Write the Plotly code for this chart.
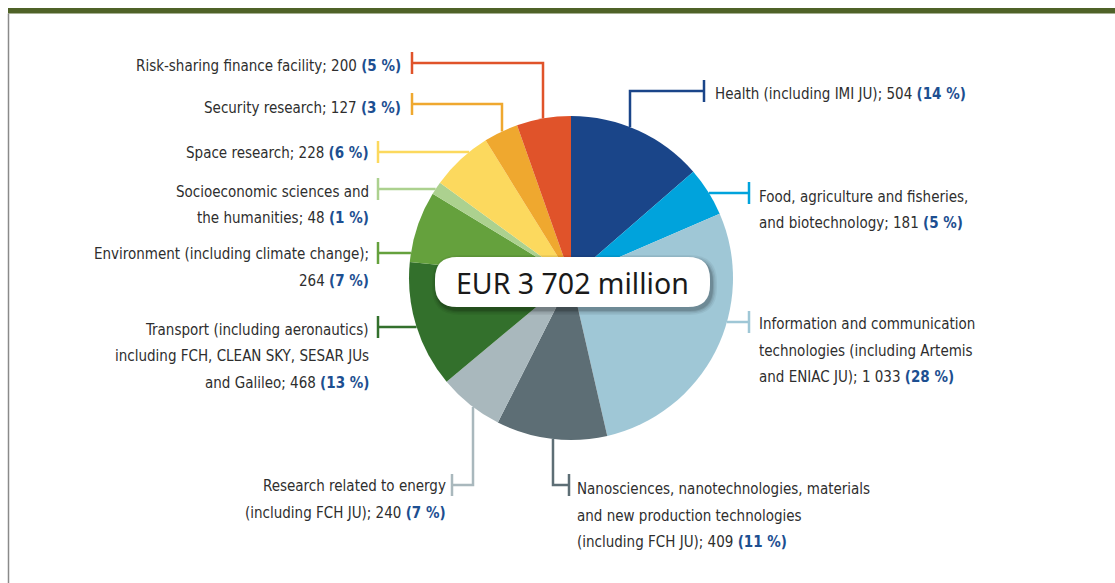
import math
import plotly.graph_objects as go

# ---------------- data ----------------
categories = [
    "Health (including IMI JU)",
    "Food, agriculture and fisheries, and biotechnology",
    "Information and communication technologies (including Artemis and ENIAC JU)",
    "Nanosciences, nanotechnologies, materials and new production technologies (including FCH JU)",
    "Research related to energy (including FCH JU)",
    "Transport (including aeronautics) including FCH, CLEAN SKY, SESAR JUs and Galileo",
    "Environment (including climate change)",
    "Socioeconomic sciences and the humanities",
    "Space research",
    "Security research",
    "Risk-sharing finance facility",
]
values = [504, 181, 1033, 409, 240, 468, 264, 48, 228, 127, 200]
percent_labels = [14, 5, 28, 11, 7, 13, 7, 1, 6, 3, 5]
colors = ["#1a4589", "#00a3dc", "#9fc7d6", "#5d6e75", "#a9b8bd", "#33702c",
          "#65a13d", "#acd18f", "#fcd95e", "#efa82f", "#e0532a"]
total_label = "EUR 3 702 million"

# label text broken into lines (value and % appended to the last line)
label_lines = [
    ["Health (including IMI JU);"],
    ["Food, agriculture and fisheries,", "and biotechnology;"],
    ["Information and communication", "technologies (including Artemis", "and ENIAC JU);"],
    ["Nanosciences, nanotechnologies, materials", "and new production technologies", "(including FCH JU);"],
    ["Research related to energy", "(including FCH JU);"],
    ["Transport (including aeronautics)", "including FCH, CLEAN SKY, SESAR JUs", "and Galileo;"],
    ["Environment (including climate change);", ""],
    ["Socioeconomic sciences and", "the humanities;"],
    ["Space research;"],
    ["Security research;"],
    ["Risk-sharing finance facility;"],
]

# ---------------- layout (pixels) ----------------
W, H = 1115, 583
CX, CY, R = 571, 278, 162

callouts = [
    dict(side="r", tx=704, ty=91, ax=713, ly=94, route=[("h", 630), ("v_to_pie", None)]),
    dict(side="r", tx=749, ty=193, ax=757, ly=197, route=[("h_to_pie", None)]),
    dict(side="r", tx=749, ty=322, ax=757, ly=324, route=[("h_to_pie", None)]),
    dict(side="r", tx=569, ty=485, ax=575, ly=489, route=[("h", 553), ("v_to_pie", None)]),
    dict(side="l", tx=452, ty=485, ax=448, ly=486, route=[("h", 473), ("v_to_pie", None)]),
    dict(side="l", tx=378, ty=327, ax=371, ly=330, route=[("h_to_pie", None)]),
    dict(side="l", tx=378, ty=253, ax=371, ly=254, route=[("h_to_pie", None)]),
    dict(side="l", tx=378, ty=189, ax=371, ly=192, route=[("h_to_pie", None)]),
    dict(side="l", tx=378, ty=152, ax=371, ly=153, route=[("h_to_pie", None)]),
    dict(side="l", tx=412, ty=104, ax=403, ly=108, route=[("h", 502), ("v_to_pie", None)]),
    dict(side="l", tx=412, ty=63, ax=403, ly=66, route=[("h", 543), ("v_to_pie", None)]),
]
LINE_H = 26.5
TICK_HALF = 11
TEXT_FONT = "DejaVu Sans Condensed, Noto Sans, sans-serif"
TEXT_SIZE = 15
TEXT_COLOR = "#2e2e2e"
PCT_COLOR = "#1d4f91"


def px(x):
    return x / W


def py(y):
    return 1 - y / H


fig = go.Figure()
fig.add_trace(go.Pie(
    labels=categories,
    values=values,
    sort=False,
    direction="clockwise",
    rotation=0,
    marker=dict(colors=colors, line=dict(width=0)),
    textinfo="none",
    hoverinfo="label+value+percent",
    showlegend=False,
    domain=dict(x=[px(CX - R), px(CX + R)], y=[py(CY + R), py(CY - R)]),
))

shapes = []
annotations = []


def fmt_val(v):
    return f"{v:,}".replace(",", " ")


for i, c in enumerate(callouts):
    col = colors[i]
    shapes.append(dict(type="line", xref="paper", yref="paper",
                       x0=px(c["tx"]), x1=px(c["tx"]),
                       y0=py(c["ty"] - TICK_HALF), y1=py(c["ty"] + TICK_HALF),
                       line=dict(color=col, width=2.5)))
    x, y = c["tx"], c["ty"]
    pts = [(x, y)]
    for kind, val in c["route"]:
        if kind == "h":
            x = val
        elif kind == "v_to_pie":
            dx = x - CX
            dy = math.sqrt(max(R * R - dx * dx, 0))
            y = CY - dy if y < CY else CY + dy
        elif kind == "h_to_pie":
            dy = y - CY
            dx = math.sqrt(max(R * R - dy * dy, 0))
            x = CX - dx if x < CX else CX + dx
        pts.append((x, y))
    path = "M " + " L ".join(f"{px(a):.5f},{py(b):.5f}" for a, b in pts)
    shapes.append(dict(type="path", xref="paper", yref="paper", path=path,
                       line=dict(color=col, width=2.5)))
    lines = list(label_lines[i])
    tail = f"{fmt_val(values[i])} <b><span style='color:{PCT_COLOR}'>({percent_labels[i]} %)</span></b>"
    if lines[-1]:
        lines[-1] = lines[-1] + " " + tail
    else:
        lines[-1] = tail
    for k, ln in enumerate(lines):
        annotations.append(dict(
            xref="paper", yref="paper", x=px(c["ax"]), y=py(c["ly"] + k * LINE_H),
            xanchor="left" if c["side"] == "r" else "right", yanchor="middle",
            text=ln, showarrow=False,
            font=dict(family=TEXT_FONT, size=TEXT_SIZE, color=TEXT_COLOR)))


def rrect(x0, y0, x1, y1, r):
    pts = [
        f"M {px(x0 + r)},{py(y0)}", f"L {px(x1 - r)},{py(y0)}",
        f"Q {px(x1)},{py(y0)} {px(x1)},{py(y0 + r)}", f"L {px(x1)},{py(y1 - r)}",
        f"Q {px(x1)},{py(y1)} {px(x1 - r)},{py(y1)}", f"L {px(x0 + r)},{py(y1)}",
        f"Q {px(x0)},{py(y1)} {px(x0)},{py(y1 - r)}", f"L {px(x0)},{py(y0 + r)}",
        f"Q {px(x0)},{py(y0)} {px(x0 + r)},{py(y0)}", "Z"]
    return " ".join(pts)


BX0, BY0, BX1, BY1 = 435, 257, 710, 307
for g, a in [(5, 0.05), (3.5, 0.07), (2, 0.09), (1, 0.12)]:
    shapes.append(dict(type="path", xref="paper", yref="paper",
                       path=rrect(BX0 - g + 2, BY0 - g + 3, BX1 + g + 2, BY1 + g + 3, 22 + g),
                       fillcolor=f"rgba(0,0,0,{a})", line=dict(width=0)))
shapes.append(dict(type="path", xref="paper", yref="paper",
                   path=rrect(BX0, BY0, BX1, BY1, 22),
                   fillcolor="#ffffff", line=dict(width=0)))
annotations.append(dict(xref="paper", yref="paper", x=px((BX0 + BX1) / 2), y=py((BY0 + BY1) / 2 + 1),
                        xanchor="center", yanchor="middle", text=total_label, showarrow=False,
                        font=dict(family="Noto Sans, Open Sans, sans-serif", size=28.5, color="#1a1a1a")))

shapes.append(dict(type="rect", xref="paper", yref="paper", x0=px(8), x1=1, y0=py(13.5), y1=py(8),
                   fillcolor="#4f6228", line=dict(width=0)))
shapes.append(dict(type="line", xref="paper", yref="paper", x0=px(8.5), x1=px(8.5), y0=py(13.5), y1=0,
                   line=dict(color="#8a8a8a", width=1.5)))

fig.update_layout(
    width=W, height=H,
    margin=dict(l=0, r=0, t=0, b=0),
    paper_bgcolor="#ffffff", plot_bgcolor="#ffffff",
    shapes=shapes, annotations=annotations,
    showlegend=False,
)
fig.write_html("out.html", config={"displayModeBar": False},
               post_script="document.body.style.margin='0';document.body.style.overflow='hidden';")
